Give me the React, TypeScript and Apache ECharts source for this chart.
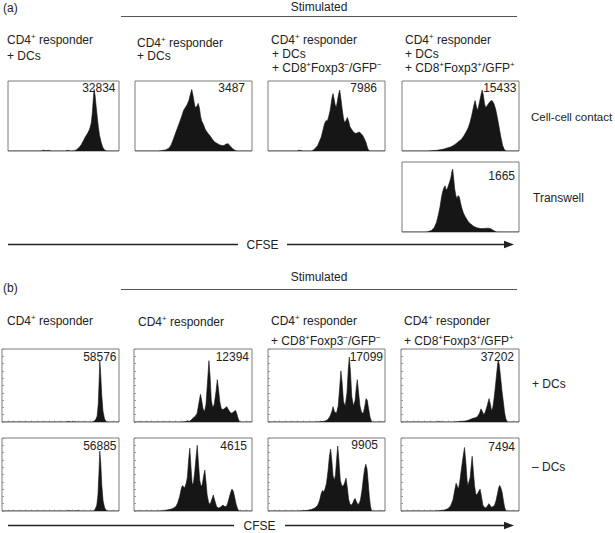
import React, { useEffect, useRef } from 'react';
import * as echarts from 'echarts';

const FONT = '"Liberation Sans", Arial, Helvetica, sans-serif';

// ---- Data: CFSE histograms, [position % of axis, count % of max] ----
const countsA = ['32834', '3487', '7986', '15433', '1665'];
const countsB = ['58576', '12394', '17099', '37202', '56885', '4615', '9905', '7494'];

const histA1 = [[0,0],[30,0],[32,1.2],[34,0.4],[37,0.8],[39,0],[52,0],[53,1],[55,0.5],[57,0],[60,0.5],[62,2],[64,5],[66,9],[68,15],[70,21],[72,26],[73.5,31],[75,40],[76,55],[77,78],[77.6,88],[78.4,80],[79.4,64],[80.5,47],[81.5,33],[82.5,22],[84,12],[85.5,5],[87,1.5],[89,0],[100,0]];
const histA2 = [[0,0],[20,0],[22,0.5],[26,1.5],[29,4],[31,9],[33,18],[35,27],[37,36],[38.5,43],[40,50],[41.5,58],[43,62],[44.5,66],[46,72],[47.5,82],[48.5,88],[49.5,80],[50.5,70],[51.5,62],[53,64],[54,68],[55,62],[56,50],[57,43],[58.5,38],[60,31],[62,26],[64,22],[66,17],[68,13],[70,11],[72,9],[74,8],[76,8],[78,10],[79.5,10.5],[81,8],[83,4],[85,1.5],[87,0],[100,0]];
const histA3 = [[0,0],[25,0],[26,1],[28,0.6],[30,0],[37,0],[38.5,1],[40.5,4],[42.5,8],[44,14],[45.5,20],[47,30],[48.3,39],[49.5,43],[51,44],[52,50],[53.1,58],[54,68],[54.8,77],[55.6,82],[56.5,74],[57.4,66],[58.3,62],[59.2,70],[60.2,80],[61.3,87],[62.2,76],[63.4,60],[64.4,48],[65.3,41],[66.5,43],[67.8,48],[69,42],[70,35],[71,32],[73,27],[75,25],[76.5,26],[78,27],[79.5,25],[81,22],[82.5,17],[83.8,12],[85,5],[86,1],[87,0],[100,0]];
const histA4 = [[0,0],[22,0],[25,0.5],[30,1],[35,2.5],[38,4],[42,6],[45,9],[48,13],[51,17],[53,22],[55,28],[56.5,33],[58,40],[59.5,50],[60.5,58],[61.5,66],[62.5,72],[63.5,64],[64.5,58],[65.5,64],[66.5,72],[67.5,80],[68.5,87],[69.5,80],[70.5,68],[71.5,62],[72.5,64],[74,68],[75.5,71],[77,72],[78.5,68],[80,60],[81.5,48],[83,34],[84.5,20],[86,8],[87.5,2],[89,0],[100,0]];
const histA5 = [[0,0],[20,0],[22,0.5],[25,2],[27.5,6],[29.5,14],[31,24],[32.5,36],[33.8,50],[34.8,58],[35.8,63],[36.8,66],[37.8,60],[38.8,62],[39.8,67],[40.8,72],[41.8,78],[42.6,86],[43.3,90],[44.2,76],[45,62],[46,52],[47,48],[48,52],[49,50],[50,42],[51,35],[52.5,27],[54,22],[55.5,18],[57,14],[59,11],[61.5,8],[64,6],[67,5],[70,5],[73,5.5],[75.5,5],[77.5,3],[79.5,1],[81,0],[100,0]];

const histB1 = [[0,0],[55,0],[57,0.8],[59,0],[62,0.5],[64,0],[77,0],[78.5,1],[80,3],[81.3,8],[82.3,25],[83,55],[83.6,84],[84.3,68],[85.2,38],[86.3,15],[87.5,5],[88.7,1],[90,0],[100,0]];
const histB2 = [[0,0],[40,0],[43,0.5],[45.5,1.5],[47,1],[48.7,3],[50.5,6],[52,8],[53.5,12],[55,26],[56.3,38],[57.3,30],[58.5,18],[59.7,14],[61,24],[62.5,60],[63.5,84],[64.5,62],[65.5,30],[66.7,20],[68,24],[69.5,42],[70.6,58],[71.6,45],[72.7,28],[74,18],[75.5,17],[77,19],[78.6,21],[80,17],[81.5,13],[83,12],[84.5,14],[86,16],[87,12],[88.2,5],[89.5,0],[100,0]];
const histB3 = [[0,0],[40,0],[45,0.5],[48,1],[50,2],[51.5,4],[53,8],[54.5,14],[55.6,21],[56.8,14],[58.5,12],[60,22],[61.3,48],[62.3,70],[63.3,55],[64.5,28],[66,22],[67.5,40],[68.6,72],[69.5,89],[70.5,68],[71.6,35],[73,22],[74.5,30],[75.5,48],[76.3,58],[77.2,44],[78.6,22],[80,13],[81.5,12],[82.8,22],[83.8,32],[84.8,30],[86,18],[87.3,6],[88.7,0],[100,0]];
const histB4 = [[0,0],[30,0],[32,0.5],[35,0],[45,0],[48,0.5],[52,1],[55,1.5],[58,3],[61,5],[63.5,6],[65,8],[66.5,12],[67.8,18],[69,14],[70.3,10],[71.5,14],[73,22],[74.6,32],[75.8,24],[76.8,15],[77.8,20],[79,34],[80.2,52],[81.3,70],[82.3,85],[83.3,78],[84.5,60],[85.6,42],[86.7,28],[87.7,14],[88.7,5],[90,0],[100,0]];
const histB5 = [[0,0],[55,0],[57,0.5],[60,0],[65,0.5],[67,0],[78.5,0],[79.8,3],[81,8],[82,22],[82.8,50],[83.6,82],[84.4,66],[85.3,35],[86.4,14],[87.6,5],[88.8,1.5],[90,0],[100,0]];
const histB6 = [[0,0],[20,0],[25,0.5],[30,2],[33,3.5],[35.5,6],[37,11],[38.7,20],[40,30],[41,35],[42,33],[43,32],[44.2,38],[45.2,46],[46.3,70],[47.3,86],[48.3,60],[49.3,37],[50.3,38],[51.4,52],[52.5,72],[53.6,90],[54.6,66],[55.7,42],[56.8,34],[57.8,36],[59,48],[60,56],[61,40],[62,22],[63.2,12],[64.4,9],[65.8,15],[67.2,22],[68.5,14],[70,6],[71.5,4],[73,5],[74.5,7],[75.5,8],[77,6],[78.2,6],[79.3,10],[80.5,17],[81.8,25],[83,30],[84.2,27],[85.4,18],[86.6,9],[87.8,3],[89,0],[100,0]];
const histB7 = [[0,0],[25,0],[30,0.5],[34,1],[37,2],[40,4],[42.5,8],[44,14],[45.5,24],[46.5,28],[47.5,26],[48.7,30],[50,38],[51.3,55],[52.5,75],[53.5,85],[54.5,70],[55.6,48],[56.7,42],[57.7,50],[58.7,72],[59.6,89],[60.6,70],[61.8,42],[63,35],[64.2,34],[65.4,38],[66.7,45],[67.8,32],[68.9,16],[70,10],[71.2,8],[72.5,11],[73.5,15],[74.4,17],[75.5,13],[76.7,9],[77.8,10],[79,15],[80.3,28],[81.5,45],[82.6,58],[83.6,64],[84.6,58],[85.6,40],[86.6,20],[87.6,6],[88.6,0],[100,0]];
const histB8 = [[0,0],[28,0],[32,0.5],[36,1],[39.7,3],[42,7],[44,15],[45.5,28],[46.7,38],[47.7,34],[48.7,30],[49.8,40],[51,55],[52.4,72],[53.8,87],[55,66],[56,42],[56.7,35],[57.6,40],[58.6,46],[59.5,62],[60.3,75],[61.3,55],[62.3,35],[63.3,24],[64.3,22],[65.6,26],[67,30],[68.2,20],[69.4,8],[70.7,5],[72,4],[73.2,7],[74.5,10],[75.5,8],[76.5,5],[78,6],[79.3,8],[80.5,14],[81.8,24],[82.8,32],[83.6,35],[84.6,32],[85.8,25],[86.8,14],[87.8,5],[89,0],[100,0]];

// ---- Text ----
const stimulatedLabel = 'Stimulated';
const axisName = 'CFSE';
const headersA = [
  ['CD4{s|+} responder', '+ DCs'],
  ['CD4{s|+} responder', '+ DCs'],
  ['CD4{s|+} responder', '+ DCs', '+ CD8{s|+}Foxp3{s|−}/GFP{s|−}'],
  ['CD4{s|+} responder', '+ DCs', '+ CD8{s|+}Foxp3{s|+}/GFP{s|+}'],
];
const headersB = [
  ['CD4{s|+} responder'],
  ['CD4{s|+} responder'],
  ['CD4{s|+} responder', '+ CD8{s|+}Foxp3{s|−}/GFP{s|−}'],
  ['CD4{s|+} responder', '+ CD8{s|+}Foxp3{s|+}/GFP{s|+}'],
];
const rowLabelsA = ['Cell-cell contact', 'Transwell'];
const rowLabelsB = ['+ DCs', '– DCs'];

// ---- Layout (positions only) ----
type Panel = { data: number[][]; count: string; box: number[]; lab: number[]; ticks: boolean };
const panels: Panel[] = [
  { data: histA1, count: countsA[0], box: [8, 81, 111, 70], lab: [3.5, 7], ticks: false },
  { data: histA2, count: countsA[1], box: [135, 81, 117, 70], lab: [7, 7], ticks: false },
  { data: histA3, count: countsA[2], box: [268, 81, 117, 70], lab: [8, 7], ticks: false },
  { data: histA4, count: countsA[3], box: [402, 81, 117, 70], lab: [2.5, 7], ticks: false },
  { data: histA5, count: countsA[4], box: [402, 162, 117, 70], lab: [4, 14], ticks: false },
  { data: histB1, count: countsB[0], box: [2, 349, 117, 73], lab: [2.5, 8], ticks: true },
  { data: histB2, count: countsB[1], box: [134, 349, 118, 73], lab: [3, 8], ticks: true },
  { data: histB3, count: countsB[2], box: [268, 349, 117, 73], lab: [2, 8], ticks: true },
  { data: histB4, count: countsB[3], box: [401, 349, 118, 73], lab: [5, 8], ticks: true },
  { data: histB5, count: countsB[4], box: [2, 438, 117, 73], lab: [2.5, 7.5], ticks: true },
  { data: histB6, count: countsB[5], box: [134, 438, 118, 73], lab: [5, 7.5], ticks: true },
  { data: histB7, count: countsB[6], box: [268, 438, 117, 73], lab: [7, 7], ticks: true },
  { data: histB8, count: countsB[7], box: [401, 438, 118, 73], lab: [4, 9], ticks: true },
];

const TEXT = '#222';
const FILL = '#161616';

function txt(text: string, x: number, y: number, align = 'left', size = 12) {
  return {
    type: 'text',
    x,
    y,
    z: 100,
    style: {
      text,
      fill: TEXT,
      fontSize: size,
      fontFamily: FONT,
      lineHeight: 16,
      align,
      verticalAlign: 'middle',
      rich: {
        s: { fontSize: 8, fontFamily: FONT, fill: TEXT, verticalAlign: 'top' },
      },
    },
  };
}

function hline(x1: number, x2: number, y: number, w = 1, color = '#555') {
  return {
    type: 'line',
    z: 100,
    shape: { x1, y1: y, x2, y2: y },
    style: { stroke: color, lineWidth: w },
  };
}

function arrow(y: number, x1: number, gap1: number, gap2: number, tip: number) {
  return [
    hline(x1, gap1, y, 1.6, '#222'),
    hline(gap2, tip - 6, y, 1.6, '#222'),
    {
      type: 'polygon',
      z: 100,
      shape: { points: [[tip, y], [tip - 10, y - 3.8], [tip - 10, y + 3.8]] },
      style: { fill: '#222' },
    },
    txt(axisName, (gap1 + gap2) / 2, y, 'center'),
  ];
}

export default function App() {
  const ref = useRef<HTMLDivElement>(null);

  useEffect(() => {
    if (!ref.current) return;
    const chart = echarts.init(ref.current, null, { renderer: 'svg' });

    const grid = panels.map((p) => ({
      left: p.box[0],
      top: p.box[1],
      width: p.box[2],
      height: p.box[3],
      show: true,
      borderColor: '#7a7a7a',
      borderWidth: 1,
      backgroundColor: 'transparent',
    }));
    const xAxis = panels.map((p, i) => ({
      type: 'value',
      gridIndex: i,
      min: 0,
      max: 100,
      interval: 5,
      axisLine: { show: false },
      axisLabel: { show: false },
      splitLine: { show: false },
      axisTick: { show: p.ticks, inside: true, length: 1.5, lineStyle: { color: '#aaa', width: 1 } },
    }));
    const yAxis = panels.map((p, i) => ({
      type: 'value',
      gridIndex: i,
      min: 0,
      max: 100,
      interval: 10,
      axisLine: { show: false },
      axisLabel: { show: false },
      splitLine: { show: false },
      axisTick: { show: p.ticks, inside: true, length: 2, lineStyle: { color: '#999', width: 1 } },
    }));
    const series = panels.map((p, i) => ({
      type: 'line',
      xAxisIndex: i,
      yAxisIndex: i,
      data: p.data,
      symbol: 'none',
      showSymbol: false,
      smooth: false,
      silent: true,
      lineStyle: { width: 0.6, color: FILL },
      areaStyle: { color: FILL, opacity: 1 },
    }));

    const graphics: any[] = [];
    // panel letters and "Stimulated" headers
    graphics.push(txt('(a)', 3, 8));
    graphics.push(txt(stimulatedLabel, 319, 7, 'center'));
    graphics.push(hline(121, 517, 16.5));
    graphics.push(txt('(b)', 3, 288));
    graphics.push(txt(stimulatedLabel, 319, 277, 'center'));
    graphics.push(hline(121, 517, 289.5));

    // column headers
    const colXA = [7, 137, 271, 405];
    const rowYA = [[40, 56], [43, 56], [40, 54, 68], [40, 54, 68]];
    headersA.forEach((lines, c) => {
      lines.forEach((l, k) => graphics.push(txt(l, colXA[c] + (k > 0 && c === 2 ? 1 : 0), rowYA[c][k])));
    });
    const colXB = [7, 138, 271, 404];
    const rowYB = [321, 341];
    headersB.forEach((lines, c) => {
      lines.forEach((l, k) => graphics.push(txt(l, colXB[c], rowYB[k] + (c === 1 ? 1 : 0))));
    });

    // row labels
    graphics.push(txt(rowLabelsA[0], 531, 117, 'left', 11.5));
    graphics.push(txt(rowLabelsA[1], 533, 198));
    graphics.push(txt(rowLabelsB[0], 532, 384));
    graphics.push(txt(rowLabelsB[1], 532, 467));

    // counts in each box
    panels.forEach((p) => {
      graphics.push(txt(p.count, p.box[0] + p.box[2] - p.lab[0], p.box[1] + p.lab[1], 'right'));
    });

    // CFSE arrows
    graphics.push(...arrow(244.5, 8, 238, 287, 514));
    graphics.push(...arrow(525.5, 8, 234, 285, 514));

    chart.setOption({
      animation: false,
      backgroundColor: '#ffffff',
      grid,
      xAxis,
      yAxis,
      series,
      graphic: { elements: graphics },
    });

    return () => chart.dispose();
  }, []);

  return (
    <div
      ref={ref}
      style={{ position: 'fixed', left: 0, top: 0, width: 615, height: 533, background: '#fff' }}
    />
  );
}
